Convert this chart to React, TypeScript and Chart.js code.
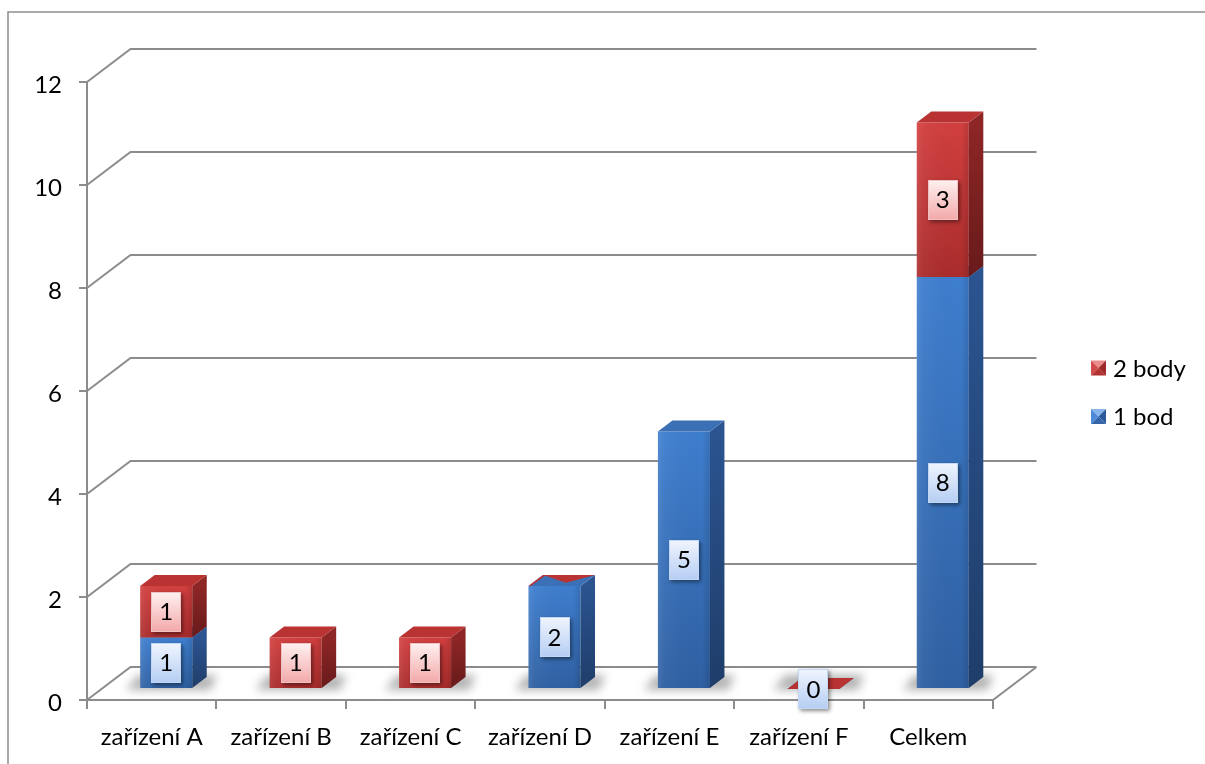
import React, { useEffect, useRef } from "react";
import { Chart, registerables } from "chart.js";

Chart.register(...registerables);

// ---- data ----
const categories = [
  "zařízení A",
  "zařízení B",
  "zařízení C",
  "zařízení D",
  "zařízení E",
  "zařízení F",
  "Celkem",
];
const seriesNames = ["1 bod", "2 body"];
const bod1: (number | null)[] = [1, null, null, 2, 5, 0, 8];
const body2: (number | null)[] = [1, 1, 1, 0, null, 0, 3];
const yMin = 0;
const yMax = 12;
const yStep = 2;

// ---- styling ----
const FONT = "Lato, 'Open Sans', sans-serif";
const GRID = "#8c8c8c";
const W = 1205;
const H = 764;

// oblique projection offsets
const BAR_DX = 14.5; // bar front plane relative to axis plane
const BAR_DY = -11;
const DEPTH_DX = 14.5; // bar depth
const DEPTH_DY = -11;
const WALL_DX = 43.5; // back wall relative to axis plane
const WALL_DY = -33;

type Palette = {
  frontTop: string;
  frontBottom: string;
  sideTop: string;
  sideBottom: string;
  top: string;
  labelTop: string;
  labelBottom: string;
  labelBorder: string;
  mTop: string;
  mLeft: string;
  mRight: string;
  mBottom: string;
};

const blue: Palette = {
  frontTop: "#3e7ece",
  frontBottom: "#2f60a2",
  sideTop: "#2b5490",
  sideBottom: "#1f3d69",
  top: "#3c70b6",
  labelTop: "#f0f5fe",
  labelBottom: "#b5cdf3",
  labelBorder: "#c3d6f2",
  mTop: "#86b5ec",
  mLeft: "#4c89d6",
  mRight: "#2b5b9c",
  mBottom: "#3466a9",
};
const red: Palette = {
  frontTop: "#d23f3f",
  frontBottom: "#aa2c2c",
  sideTop: "#8e2626",
  sideBottom: "#681a1a",
  top: "#b93333",
  labelTop: "#fff1f1",
  labelBottom: "#f3a8a8",
  labelBorder: "#eec2c2",
  mTop: "#ea8a8a",
  mLeft: "#d24a4a",
  mRight: "#9c2929",
  mBottom: "#b23232",
};
const palettes = [blue, red];

function poly(ctx: CanvasRenderingContext2D, pts: number[][]) {
  ctx.beginPath();
  ctx.moveTo(pts[0][0], pts[0][1]);
  for (let i = 1; i < pts.length; i++) ctx.lineTo(pts[i][0], pts[i][1]);
  ctx.closePath();
}

function drawTopFace(
  ctx: CanvasRenderingContext2D,
  xl: number,
  xr: number,
  yt: number,
  color: string
) {
  poly(ctx, [
    [xl, yt],
    [xr, yt],
    [xr + DEPTH_DX, yt + DEPTH_DY],
    [xl + DEPTH_DX, yt + DEPTH_DY],
  ]);
  ctx.fillStyle = color;
  ctx.fill();
}

function drawBox(
  ctx: CanvasRenderingContext2D,
  xl: number,
  xr: number,
  yt: number,
  yb: number,
  pal: Palette
) {
  const h = yb - yt;
  if (h > 0.5) {
    // front face
    const g = ctx.createLinearGradient(0, yt, 0, yb);
    g.addColorStop(0, pal.frontTop);
    g.addColorStop(1, pal.frontBottom);
    ctx.fillStyle = g;
    ctx.fillRect(xl, yt, xr - xl, h);
    // bevel shading across the face
    const gh = ctx.createLinearGradient(xl, 0, xr, 0);
    gh.addColorStop(0, "rgba(255,255,255,0.10)");
    gh.addColorStop(0.12, "rgba(255,255,255,0.04)");
    gh.addColorStop(0.85, "rgba(0,0,0,0)");
    gh.addColorStop(1, "rgba(0,0,0,0.12)");
    ctx.fillStyle = gh;
    ctx.fillRect(xl, yt, xr - xl, h);
    // side face
    const gs = ctx.createLinearGradient(0, yt, 0, yb);
    gs.addColorStop(0, pal.sideTop);
    gs.addColorStop(1, pal.sideBottom);
    poly(ctx, [
      [xr, yb],
      [xr, yt],
      [xr + DEPTH_DX, yt + DEPTH_DY],
      [xr + DEPTH_DX, yb + DEPTH_DY],
    ]);
    ctx.fillStyle = gs;
    ctx.fill();
  }
  drawTopFace(ctx, xl, xr, yt, pal.top);
}

function drawValueLabel(
  ctx: CanvasRenderingContext2D,
  cx: number,
  cy: number,
  text: string,
  pal: Palette
) {
  const w = 30;
  const h = 40;
  const x = Math.round(cx - w / 2);
  const y = Math.round(cy - h / 2);
  ctx.save();
  ctx.shadowColor = "rgba(0,0,0,0.45)";
  ctx.shadowBlur = 4;
  ctx.shadowOffsetX = 1.5;
  ctx.shadowOffsetY = 2;
  const g = ctx.createLinearGradient(0, y, 0, y + h);
  g.addColorStop(0, pal.labelTop);
  g.addColorStop(1, pal.labelBottom);
  ctx.fillStyle = g;
  ctx.fillRect(x, y, w, h);
  ctx.restore();
  ctx.save();
  ctx.strokeStyle = pal.labelBorder;
  ctx.lineWidth = 1;
  ctx.strokeRect(x + 0.5, y + 0.5, w - 1, h - 1);
  ctx.fillStyle = "#000";
  ctx.font = `24px ${FONT}`;
  ctx.textAlign = "center";
  ctx.textBaseline = "middle";
  ctx.fillText(text, cx, cy + 1);
  ctx.restore();
}

function drawMarker(
  ctx: CanvasRenderingContext2D,
  x: number,
  y: number,
  s: number,
  pal: Palette
) {
  const cx = x + s / 2;
  const cy = y + s / 2;
  const tri = (pts: number[][], c: string) => {
    poly(ctx, pts);
    ctx.fillStyle = c;
    ctx.fill();
  };
  tri([[x, y], [x + s, y], [cx, cy]], pal.mTop);
  tri([[x, y], [cx, cy], [x, y + s]], pal.mLeft);
  tri([[x + s, y], [x + s, y + s], [cx, cy]], pal.mRight);
  tri([[x, y + s], [cx, cy], [x + s, y + s]], pal.mBottom);
}

const scene3d = {
  id: "scene3d",
  beforeDraw(chart: any) {
    const ctx: CanvasRenderingContext2D = chart.ctx;
    ctx.save();
    ctx.fillStyle = "#ffffff";
    ctx.fillRect(0, 0, chart.width, chart.height);
    ctx.strokeStyle = "#8e8e8e";
    ctx.lineWidth = 1.5;
    ctx.beginPath();
    ctx.moveTo(8, chart.height);
    ctx.lineTo(8, 12);
    ctx.lineTo(chart.width, 12);
    ctx.stroke();
    ctx.restore();
  },
  beforeDatasetsDraw(chart: any) {
    const ctx: CanvasRenderingContext2D = chart.ctx;
    const y = chart.scales.y;
    const { left, right } = chart.chartArea;
    ctx.save();
    ctx.strokeStyle = GRID;
    ctx.lineWidth = 2;
    ctx.lineJoin = "miter";
    for (const t of y.ticks) {
      const py = y.getPixelForValue(t.value);
      ctx.beginPath();
      ctx.moveTo(left, py);
      ctx.lineTo(left + WALL_DX, py + WALL_DY);
      ctx.lineTo(right + WALL_DX, py + WALL_DY);
      if (t.value === yMin) {
        ctx.moveTo(right, py);
        ctx.lineTo(right + WALL_DX, py + WALL_DY);
      }
      ctx.stroke();
    }
    // soft floor shadows beneath each column
    const meta0 = chart.getDatasetMeta(0);
    const yb = y.getPixelForValue(0) + BAR_DY;
    ctx.filter = "blur(5px)";
    ctx.fillStyle = "rgba(0,0,0,0.30)";
    for (let i = 0; i < categories.length; i++) {
      const el = meta0.data[i];
      if (!el) continue;
      const xl = el.x - el.width / 2 + BAR_DX;
      const xr = xl + el.width;
      poly(ctx, [
        [xl - 14, yb + 1],
        [xr + DEPTH_DX + 4, yb + 1],
        [xr + DEPTH_DX + 10, yb + DEPTH_DY - 3],
        [xl - 2, yb + DEPTH_DY - 3],
      ]);
      ctx.fill();
    }
    ctx.filter = "none";
    ctx.restore();
  },
  afterDatasetsDraw(chart: any) {
    const ctx: CanvasRenderingContext2D = chart.ctx;
    const sets = chart.data.datasets;
    ctx.save();
    for (let i = 0; i < categories.length; i++) {
      let prevNonZero = false;
      for (let d = 0; d < sets.length; d++) {
        const v = sets[d].data[i];
        if (v === null || v === undefined) continue;
        const el = chart.getDatasetMeta(d).data[i];
        const xl = el.x - el.width / 2 + BAR_DX;
        const xr = xl + el.width;
        const yt = el.y + BAR_DY;
        const yb = el.base + BAR_DY;
        const pal = palettes[d];
        if (v === 0 && prevNonZero) {
          // empty segment resting on a filled one: its lid shows through partly
          const w = xr - xl;
          poly(ctx, [
            [xl + DEPTH_DX, yt + DEPTH_DY],
            [xr + DEPTH_DX, yt + DEPTH_DY],
            [xl + w * 0.72, yt + DEPTH_DY * 0.3],
          ]);
          ctx.fillStyle = pal.top;
          ctx.fill();
          poly(ctx, [
            [xl, yt],
            [xl + DEPTH_DX, yt + DEPTH_DY],
            [xl + DEPTH_DX + 3, yt + DEPTH_DY],
            [xl + 2.5, yt],
          ]);
          ctx.fill();
        } else {
          drawBox(ctx, xl, xr, yt, yb, pal);
        }
        if (v > 0) prevNonZero = true;
      }
    }
    // value labels
    for (let d = 0; d < sets.length; d++) {
      const meta = chart.getDatasetMeta(d);
      for (let i = 0; i < categories.length; i++) {
        const v = sets[d].data[i];
        if (v === null || v === undefined) continue;
        if (v === 0 && d > 0) continue;
        const el = meta.data[i];
        const cx = el.x + BAR_DX;
        const cy = (el.y + el.base) / 2 + BAR_DY;
        drawValueLabel(ctx, cx, cy, String(v), palettes[d]);
      }
    }
    ctx.restore();
  },
  afterDraw(chart: any) {
    const ctx: CanvasRenderingContext2D = chart.ctx;
    const sets = chart.data.datasets;
    ctx.save();
    ctx.font = `24px ${FONT}`;
    ctx.textAlign = "left";
    ctx.textBaseline = "middle";
    const rows = [1, 0]; // stacked order, top series first
    rows.forEach((d, k) => {
      const cy = 368 + k * 48.5;
      drawMarker(ctx, 1091, cy - 7.5, 15, palettes[d]);
      ctx.fillStyle = "#000";
      ctx.fillText(sets[d].label, 1113, cy + 1);
    });
    ctx.restore();
  },
};

export default function App() {
  const ref = useRef<HTMLCanvasElement | null>(null);

  useEffect(() => {
    if (!ref.current) return;
    const chart = new Chart(ref.current, {
      type: "bar",
      data: {
        labels: categories,
        datasets: [
          {
            label: seriesNames[0],
            data: bod1,
            backgroundColor: "rgba(0,0,0,0)",
            categoryPercentage: 1,
            barPercentage: 0.402,
          },
          {
            label: seriesNames[1],
            data: body2,
            backgroundColor: "rgba(0,0,0,0)",
            categoryPercentage: 1,
            barPercentage: 0.402,
          },
        ],
      },
      options: {
        responsive: false,
        animation: false,
        layout: { padding: { top: 82, right: 212, left: 0, bottom: 0 } },
        plugins: {
          legend: { display: false },
          tooltip: { enabled: false },
        },
        scales: {
          x: {
            stacked: true,
            offset: true,
            grid: {
              offset: true,
              drawOnChartArea: false,
              drawTicks: true,
              tickLength: 9,
              color: GRID,
              lineWidth: 2,
            },
            border: { display: true, color: GRID, width: 2 },
            ticks: {
              color: "#000",
              font: { family: FONT, size: 24 },
              padding: 14,
              maxRotation: 0,
              autoSkip: false,
            },
            afterFit: (s: any) => {
              s.height = 64;
            },
          },
          y: {
            stacked: true,
            min: yMin,
            max: yMax,
            ticks: {
              stepSize: yStep,
              color: "#000",
              font: { family: FONT, size: 24 },
              padding: 17,
              labelOffset: 3,
            },
            grid: {
              drawOnChartArea: false,
              drawTicks: true,
              tickLength: 8,
              color: GRID,
              lineWidth: 2,
            },
            border: { display: true, color: GRID, width: 2 },
            afterFit: (s: any) => {
              s.width = 87;
            },
          },
        },
      },
      plugins: [scene3d],
    });
    return () => chart.destroy();
  }, []);

  return (
    <div style={{ position: "absolute", left: 0, top: 0, width: W, height: H }}>
      <canvas ref={ref} width={W} height={H} style={{ display: "block" }} />
    </div>
  );
}
